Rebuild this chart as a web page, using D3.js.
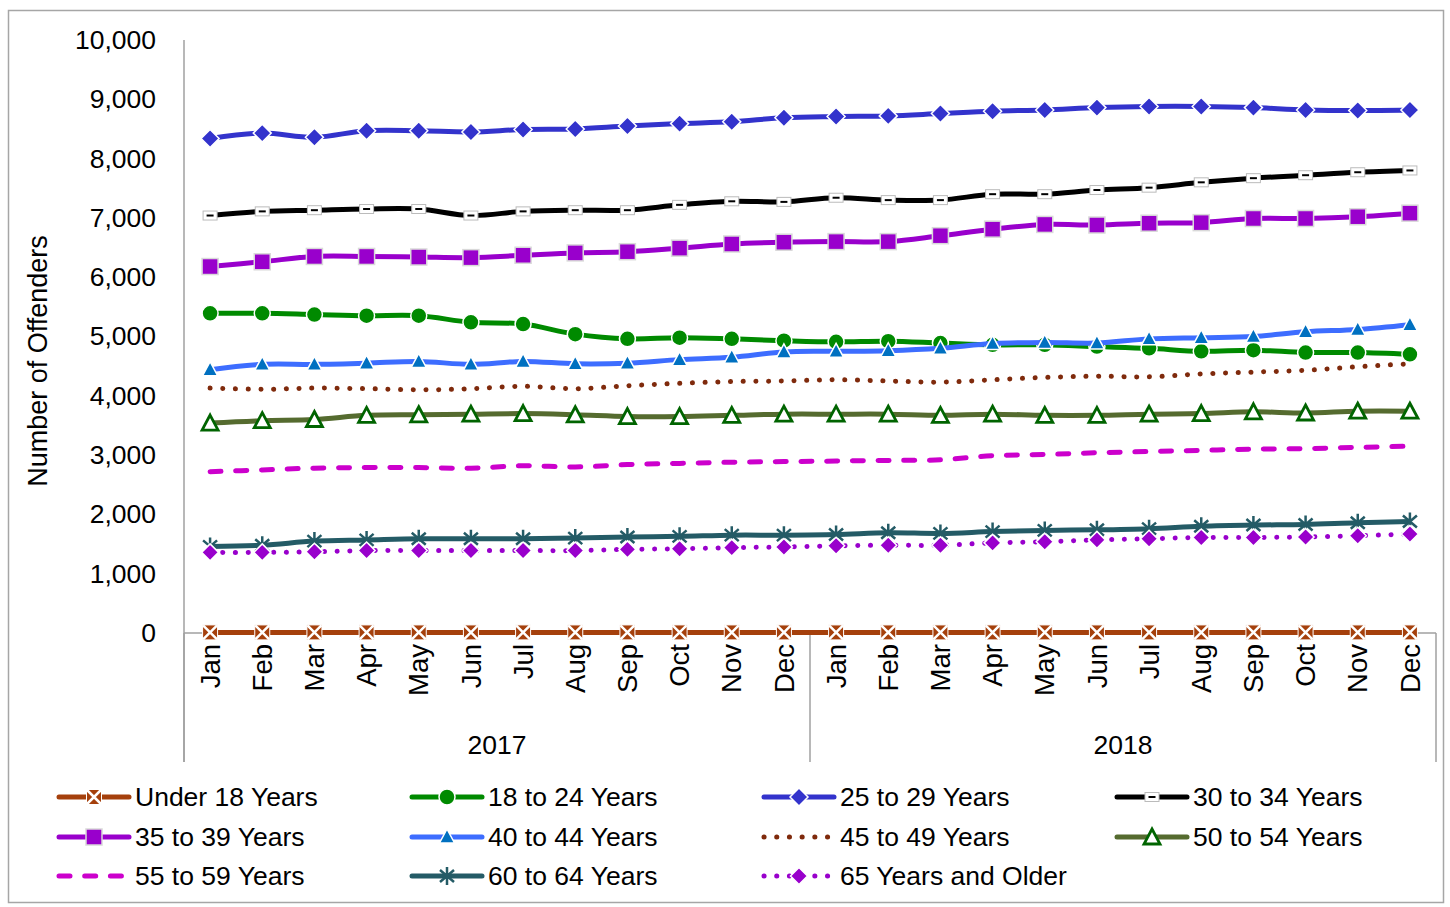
<!DOCTYPE html>
<html><head><meta charset="utf-8">
<script src="https://cdn.jsdelivr.net/npm/d3@7"></script>
<style>body{margin:0;background:#fff}svg{display:block}text{font-family:"Liberation Sans",Arial,sans-serif;fill:#000}</style>
</head><body><svg id="c" width="1450" height="907"></svg>
<script>
const months = ["Jan","Feb","Mar","Apr","May","Jun","Jul","Aug","Sep","Oct","Nov","Dec"];
const years = ["2017","2018"];
const yTicks = [0,1000,2000,3000,4000,5000,6000,7000,8000,9000,10000];
const seriesNames = ["Under 18 Years","18 to 24 Years","25 to 29 Years","30 to 34 Years","35 to 39 Years","40 to 44 Years","45 to 49 Years","50 to 54 Years","55 to 59 Years","60 to 64 Years","65 Years and Older"];
const under18 = [10,10,10,10,10,10,10,10,10,10,10,10,10,10,10,10,10,10,10,10,10,10,10,10];
const age18to24 = [5390,5390,5370,5350,5350,5240,5210,5040,4960,4980,4960,4930,4910,4920,4890,4860,4860,4830,4800,4750,4770,4730,4730,4700];
const age25to29 = [8340,8430,8360,8470,8470,8450,8490,8500,8550,8590,8620,8690,8710,8720,8760,8800,8820,8860,8880,8880,8860,8820,8810,8820];
const age30to34 = [7040,7110,7130,7150,7150,7040,7110,7130,7130,7220,7280,7270,7340,7300,7300,7400,7400,7470,7510,7600,7670,7720,7770,7800];
const age35to39 = [6180,6260,6350,6350,6340,6330,6370,6410,6430,6490,6560,6590,6600,6600,6700,6810,6890,6880,6910,6920,6990,6990,7020,7080];
const age40to44 = [4440,4530,4530,4550,4580,4530,4580,4540,4550,4610,4650,4740,4750,4760,4800,4880,4900,4890,4960,4980,5000,5080,5120,5200];
const age45to49 = [4130,4110,4130,4120,4100,4120,4160,4120,4170,4210,4240,4250,4270,4250,4230,4270,4310,4330,4320,4370,4400,4430,4490,4540];
const age50to54 = [3540,3580,3600,3670,3680,3690,3700,3680,3650,3650,3670,3690,3690,3690,3670,3690,3670,3670,3690,3700,3730,3710,3740,3740];
const age55to59 = [2720,2750,2780,2790,2790,2780,2820,2800,2840,2860,2880,2890,2900,2910,2920,2990,3010,3040,3060,3080,3100,3110,3130,3150];
const age60to64 = [1460,1480,1550,1570,1590,1590,1590,1600,1620,1630,1650,1650,1660,1690,1680,1710,1730,1740,1760,1800,1820,1830,1860,1880];
const age65plus = [1360,1360,1370,1390,1390,1390,1390,1390,1410,1420,1440,1450,1470,1480,1480,1520,1540,1570,1590,1610,1610,1620,1640,1670];
const allValues = [under18,age18to24,age25to29,age30to34,age35to39,age40to44,age45to49,age50to54,age55to59,age60to64,age65plus];

const styles = [
  {color:"#A5400C", dash:null, marker:"xsq"},
  {color:"#008A00", dash:null, marker:"circle", mfill:"#008A00"},
  {color:"#3333CC", dash:null, marker:"diamond", mfill:"#3333CC"},
  {color:"#000000", dash:null, marker:"dash"},
  {color:"#9900CC", dash:null, marker:"square", mfill:"#9900CC"},
  {color:"#3D6DFF", dash:null, marker:"tri", mfill:"#0070C0"},
  {color:"#7F2A0C", dash:"0.1 12.6", marker:null},
  {color:"#556B2F", dash:null, marker:"otri"},
  {color:"#CC00CC", dash:"11 14.7", marker:null},
  {color:"#245B66", dash:null, marker:"star"},
  {color:"#9900CC", dash:"0.1 12.6", marker:"diamond", mfill:"#9900CC", small:true}
];

const FS = 26.5;
const cats = [];
years.forEach(y => months.forEach(m => cats.push(y + "-" + m)));

const svg = d3.select("#c");
const L = 184, R = 1436, T = 40, B = 633;
const x = d3.scaleBand().domain(cats).range([L, R]);
const y = d3.scaleLinear().domain([0, 10000]).range([B, T]);
const cx = c => x(c) + x.bandwidth() / 2;

// frame
svg.append("rect").attr("x", 8.5).attr("y", 10.5).attr("width", 1435).attr("height", 892)
  .attr("fill", "none").attr("stroke", "#A6A6A6").attr("stroke-width", 1.5);

// y axis
const yAxis = d3.axisLeft(y).tickValues(yTicks).tickSize(0).tickPadding(0).tickFormat(d3.format(","));
const ya = svg.append("g").attr("transform", `translate(156,0)`).call(yAxis);
ya.select(".domain").remove();
ya.selectAll("text").attr("font-size", FS).attr("font-family", '"Liberation Sans", Arial, sans-serif').attr("fill", "#000");

svg.append("line").attr("x1", L).attr("x2", L).attr("y1", T).attr("y2", 762).attr("stroke", "#A0A0A0").attr("stroke-width", 1.5);
svg.append("line").attr("x1", L).attr("x2", R).attr("y1", B).attr("y2", B).attr("stroke", "#A0A0A0").attr("stroke-width", 1.5);
[L, x(cats[12]), R].forEach(px => {
  svg.append("line").attr("x1", px).attr("x2", px).attr("y1", B).attr("y2", 762).attr("stroke", "#A0A0A0").attr("stroke-width", 1.5);
});

// month labels
const xAxis = d3.axisBottom(x).tickSize(0).tickFormat(d => d.split("-")[1]);
const xa = svg.append("g").attr("transform", `translate(0,${B})`).call(xAxis);
xa.select(".domain").remove();
xa.selectAll("text").attr("font-size", 27.5).attr("font-family", '"Liberation Sans", Arial, sans-serif').attr("fill", "#000")
  .attr("text-anchor", "end").attr("transform", "rotate(-90)").attr("x", -11).attr("y", 0).attr("dy", "0.35em");

// year labels
years.forEach((yr, i) => {
  const a = x(cats[i * 12]), b = x(cats[i * 12 + 11]) + x.bandwidth();
  svg.append("text").attr("x", (a + b) / 2).attr("y", 754).attr("text-anchor", "middle").attr("font-size", FS).text(yr);
});

// y title
svg.append("text").attr("transform", "translate(47,361) rotate(-90)").attr("text-anchor", "middle").attr("font-size", 27).text("Number of Offenders");

function drawMarker(g, type, st) {
  const c = st.color;
  if (type === "xsq") {
    g.append("rect").attr("x", -7.5).attr("y", -7.5).attr("width", 15).attr("height", 15).attr("fill", c).attr("stroke", "#fff").attr("stroke-width", 1);
    g.append("path").attr("d", "M-7,-7L7,7M7,-7L-7,7").attr("stroke", "#fff").attr("stroke-width", 2.5);
  } else if (type === "circle") {
    g.append("circle").attr("r", 8).attr("fill", st.mfill).attr("stroke", "#fff").attr("stroke-width", 1.5);
  } else if (type === "diamond") {
    const r = st.small ? 8.5 : 9;
    g.append("path").attr("d", `M0,${-r}L${r},0L0,${r}L${-r},0Z`).attr("fill", st.mfill).attr("stroke", "#fff").attr("stroke-width", 1.5);
  } else if (type === "dash") {
    g.append("rect").attr("x", -7).attr("y", -4.5).attr("width", 14).attr("height", 9).attr("fill", "#fff").attr("stroke", "#BBBBBB").attr("stroke-width", 1);
    g.append("line").attr("x1", -3.5).attr("x2", 3.5).attr("y1", 0).attr("y2", 0).attr("stroke", "#000").attr("stroke-width", 2);
  } else if (type === "square") {
    g.append("rect").attr("x", -8).attr("y", -8).attr("width", 16).attr("height", 16).attr("fill", st.mfill).attr("stroke", "#D9D9D9").attr("stroke-width", 1.5);
  } else if (type === "tri") {
    g.append("path").attr("d", "M0,-8L7.5,6L-7.5,6Z").attr("fill", st.mfill).attr("stroke", "#fff").attr("stroke-width", 1.5);
  } else if (type === "otri") {
    g.append("path").attr("d", "M0,-8L8,7L-8,7Z").attr("fill", "#fff").attr("stroke", "#006400").attr("stroke-width", 2.8).attr("stroke-linejoin", "miter");
  } else if (type === "star") {
    g.append("path").attr("d", "M0,-9V9M-7,-6L7,6M7,-6L-7,6").attr("stroke", c).attr("stroke-width", 2.5);
  }
}

const line = d3.line().x((d, i) => cx(cats[i])).y(d => y(d)).curve(d3.curveCardinal.tension(0));

allValues.forEach((vals, si) => {
  const st = styles[si];
  const g = svg.append("g");
  g.append("path").datum(vals).attr("d", line).attr("fill", "none").attr("stroke", st.color)
    .attr("stroke-width", 5).attr("stroke-linecap", st.dash ? "round" : "butt").attr("stroke-linejoin", "round")
    .attr("stroke-dasharray", st.dash);
  if (st.marker) {
    vals.forEach((v, i) => {
      drawMarker(g.append("g").attr("transform", `translate(${cx(cats[i])},${y(v)})`), st.marker, st);
    });
  }
});

// legend
const colX = [57, 410, 762, 1115];
const rowY = [797, 837, 876];
seriesNames.forEach((name, i) => {
  const st = styles[i];
  const lx = colX[i % 4], ly = rowY[Math.floor(i / 4)];
  const g = svg.append("g");
  g.append("line").attr("x1", lx + 2).attr("x2", lx + 72).attr("y1", ly).attr("y2", ly).attr("stroke", st.color)
    .attr("stroke-width", 5).attr("stroke-linecap", "round").attr("stroke-dasharray", st.dash);
  if (st.marker) drawMarker(g.append("g").attr("transform", `translate(${lx + 37},${ly})`), st.marker, st);
  g.append("text").attr("x", lx + 78).attr("y", ly).attr("dy", "0.35em").attr("font-size", FS).text(name);
});
</script></body></html>
